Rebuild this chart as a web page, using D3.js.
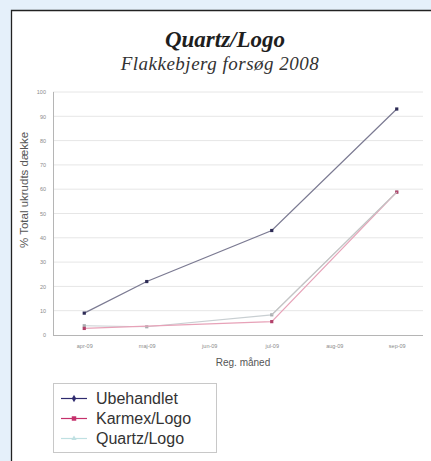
<!DOCTYPE html>
<html>
<head>
<meta charset="utf-8">
<script src="https://d3js.org/d3.v7.min.js"></script>
<style>
  body { margin: 0; background: #e5f0fa; }
  svg { display: block; }
</style>
</head>
<body>
<svg width="431" height="461"></svg>
<script>
    // data
    const months = ["apr-09", "maj-09", "jun-09", "jul-09", "aug-09", "sep-09"];
    const yTicks = [0, 10, 20, 30, 40, 50, 60, 70, 80, 90, 100];
    const seriesNames = ["Ubehandlet", "Karmex/Logo", "Quartz/Logo"];
    const ubehandlet = [[0, 9], [1, 22], [3, 43], [5, 93]];
    const karmex = [[0, 2.7], [3, 5.5], [5, 58.8]];
    const quartz = [[0, 3.8], [1, 3.4], [3, 8.3], [5, 58.8]];

    const svg = d3.select("svg");

    // white panel with dark left / top border
    svg.append("rect").attr("x", 11).attr("y", 10).attr("width", 420).attr("height", 451).attr("fill", "#fff");
    svg.append("path").attr("d", "M11.5,461V10.5H431").attr("fill", "none").attr("stroke", "#222").attr("stroke-width", 1.3);

    svg.append("text").attr("x", 225).attr("y", 47).attr("text-anchor", "middle")
        .style("font-family", "'Liberation Serif', serif").style("font-style", "italic").style("font-weight", "bold")
        .style("font-size", "23px").attr("fill", "#1e1e1e").text("Quartz/Logo");
    svg.append("text").attr("x", 220).attr("y", 70).attr("text-anchor", "middle")
        .style("font-family", "'Liberation Serif', serif").style("font-style", "italic")
        .style("font-size", "19px").style("letter-spacing", "0.5px").attr("fill", "#333").text("Flakkebjerg forsøg 2008");

    const pLeft = 53, pRight = 428, pTop = 92, pBottom = 335;
    const x = d3.scalePoint().domain(d3.range(months.length)).range([pLeft, pRight]).padding(0.5);
    const y = d3.scaleLinear().domain([0, 100]).range([pBottom, pTop]);

    const g = svg.append("g");

    // gridlines
    g.selectAll(".grid").data(yTicks.filter(d => d > 0)).enter().append("line")
        .attr("x1", pLeft).attr("x2", 423)
        .attr("y1", d => y(d)).attr("y2", d => y(d))
        .attr("stroke", "#e6e6e6").attr("stroke-width", 1);

    // axes
    const yAxis = g.append("g").attr("transform", "translate(" + pLeft + ",0)")
        .call(d3.axisLeft(y).tickValues(yTicks).tickSize(0).tickPadding(7));
    const xAxis = g.append("g").attr("transform", "translate(0," + pBottom + ")")
        .call(d3.axisBottom(x).tickFormat(i => months[i]).tickSize(0).tickPadding(9));
    [yAxis, xAxis].forEach(a => {
        a.select(".domain").attr("stroke", "#b5b5b5");
        a.selectAll("text").attr("fill", "#8a8a8a").style("font-family", "'Liberation Sans', Arial, sans-serif").style("font-size", "5.5px");
    });
    xAxis.select(".domain").attr("d", "M" + pLeft + ",0.5H423");
    yAxis.select(".domain").attr("d", "M0.5," + pBottom + "V" + pTop);

    g.append("text").attr("transform", "translate(28,190) rotate(-90)").attr("text-anchor", "middle")
        .style("font-family", "'Liberation Sans', Arial, sans-serif").style("font-size", "11.5px")
        .attr("fill", "#555").text("% Total ukrudts dække");
    g.append("text").attr("x", 243).attr("y", 366).attr("text-anchor", "middle")
        .style("font-family", "'Liberation Sans', Arial, sans-serif").style("font-size", "10px")
        .attr("fill", "#555").text("Reg. måned");

    const line = d3.line().x(d => x(d[0])).y(d => y(d[1]));
    const series = [
        { name: seriesNames[0], data: ubehandlet, line: "#7b7a92", dot: "#2d2b55", key: "#2e2a6e", sym: d3.symbolDiamond, ksize: 16 },
        { name: seriesNames[1], data: karmex, line: "#e7a2b8", dot: "#b2416a", key: "#c5306c", sym: d3.symbolSquare, ksize: 20 },
        { name: seriesNames[2], data: quartz, line: "#c9cfd2", dot: "#a9adb0", key: "#bfe0e2", sym: d3.symbolTriangle, ksize: 12 }
    ];

    [series[0], series[2], series[1]].forEach(s => {
        g.append("path").datum(s.data).attr("d", line)
            .attr("fill", "none").attr("stroke", s.line).attr("stroke-width", 1.2);
        g.selectAll(null).data(s.data).enter().append("rect")
            .attr("x", d => x(d[0]) - 1.6).attr("y", d => y(d[1]) - 1.6)
            .attr("width", 3.2).attr("height", 3.2).attr("fill", s.dot);
    });
    // sep overlap: upper line greyish
    g.append("path").datum(quartz.slice(2)).attr("d", line)
        .attr("fill", "none").attr("stroke", "#c4c4c4").attr("stroke-width", 1.2);

    // legend
    const legend = svg.append("g");
    legend.append("rect").attr("x", 53.5).attr("y", 383.5).attr("width", 163).attr("height", 69)
        .attr("fill", "#fff").attr("stroke", "#c8c8c8");
    series.forEach((s, i) => {
        const yy = 398.5 + i * 20;
        legend.append("line").attr("x1", 61).attr("x2", 87).attr("y1", yy).attr("y2", yy)
            .attr("stroke", s.key).attr("stroke-width", 1.2);
        legend.append("path").attr("d", d3.symbol(s.sym, s.ksize)).attr("transform", "translate(74," + yy + ")")
            .attr("fill", s.key);
        legend.append("text").attr("x", 96).attr("y", yy + 5.5)
            .style("font-family", "'Liberation Sans', Arial, sans-serif").style("font-size", "16px")
            .attr("fill", "#333").text(s.name);
    });
</script>
</body>
</html>
